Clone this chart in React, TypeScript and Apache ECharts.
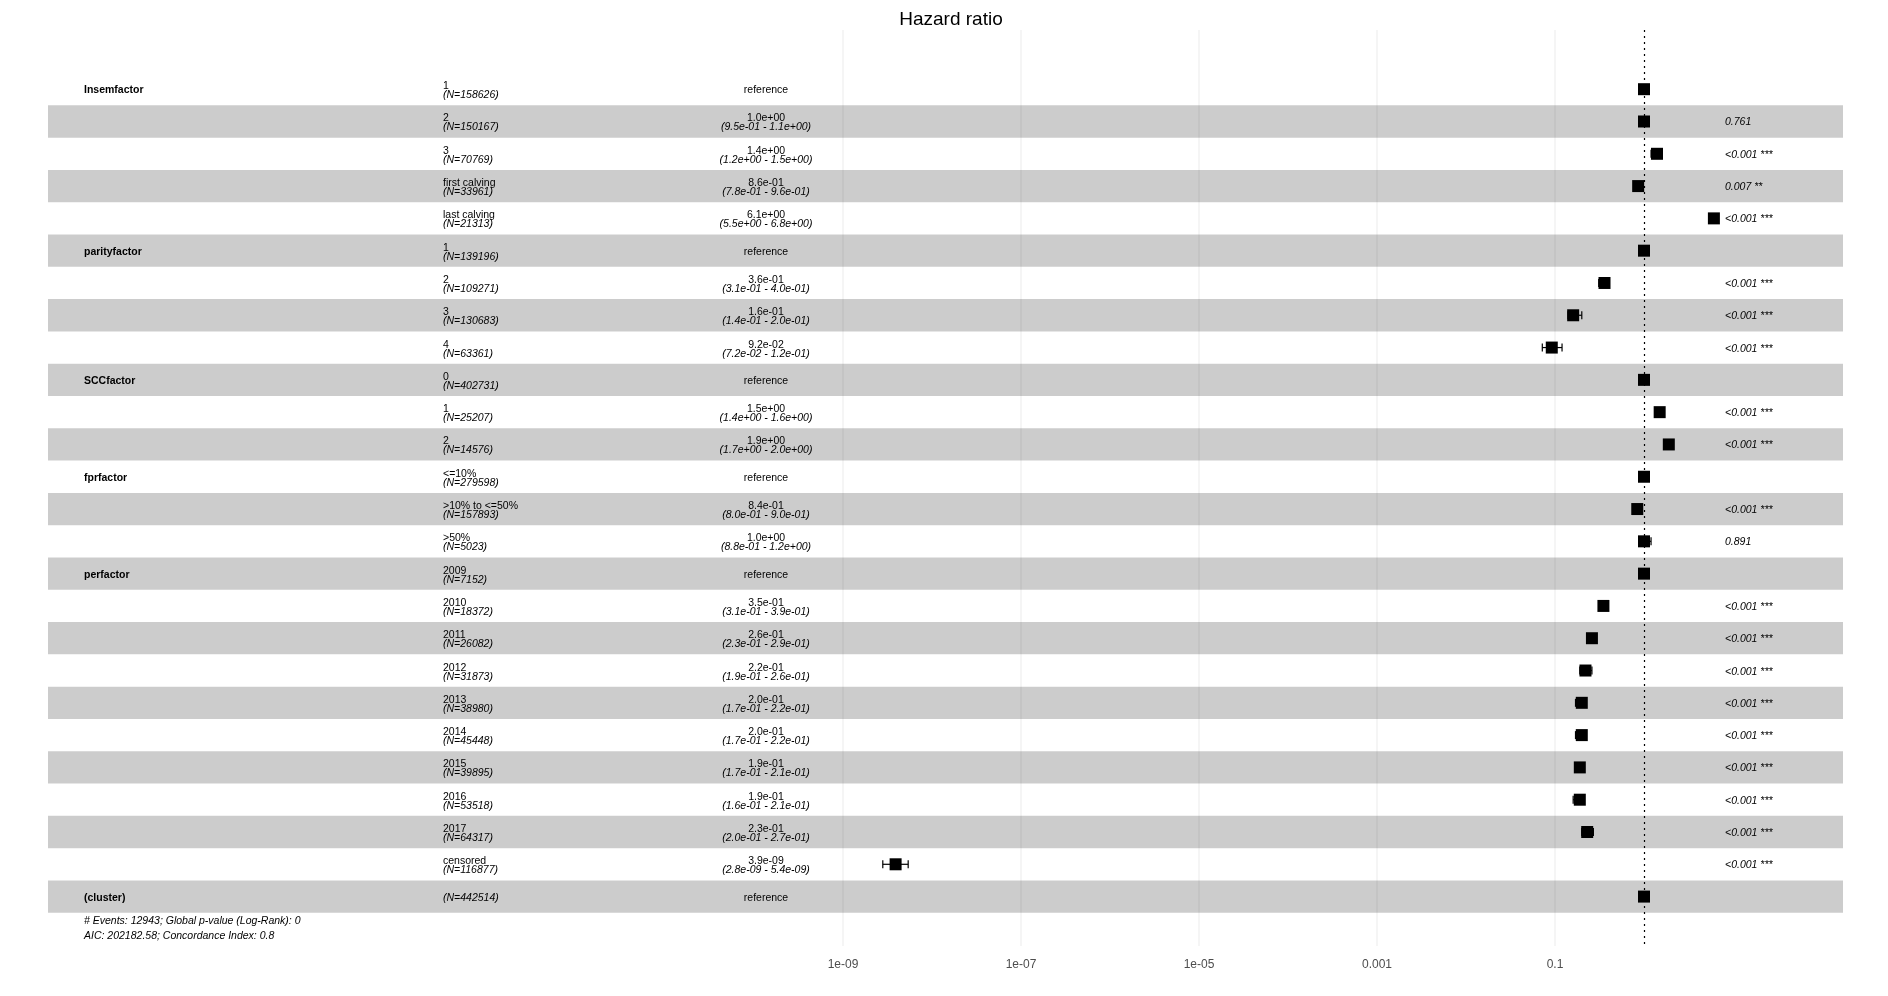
import React, { useEffect, useRef } from "react";
import * as echarts from "echarts";

const variables = ["Insemfactor", "", "", "", "", "parityfactor", "", "", "", "SCCfactor", "", "", "fprfactor", "", "", "perfactor", "", "", "", "", "", "", "", "", "", "(cluster)"];
const levels = ["1", "2", "3", "first calving", "last calving", "1", "2", "3", "4", "0", "1", "2", "<=10%", ">10% to <=50%", ">50%", "2009", "2010", "2011", "2012", "2013", "2014", "2015", "2016", "2017", "censored", ""];
const counts = [158626, 150167, 70769, 33961, 21313, 139196, 109271, 130683, 63361, 402731, 25207, 14576, 279598, 157893, 5023, 7152, 18372, 26082, 31873, 38980, 45448, 39895, 53518, 64317, 116877, 442514];
const estimates = [1, 1.0, 1.4, 0.86, 6.1, 1, 0.36, 0.16, 0.092, 1, 1.5, 1.9, 1, 0.84, 1.0, 1, 0.35, 0.26, 0.22, 0.20, 0.20, 0.19, 0.19, 0.23, 3.9e-9, 1];
const lower: (number | null)[] = [null, 0.95, 1.2, 0.78, 5.5, null, 0.31, 0.14, 0.072, null, 1.4, 1.7, null, 0.80, 0.88, null, 0.31, 0.23, 0.19, 0.17, 0.17, 0.17, 0.16, 0.20, 2.8e-9, null];
const upper: (number | null)[] = [null, 1.1, 1.5, 0.96, 6.8, null, 0.40, 0.20, 0.12, null, 1.6, 2.0, null, 0.90, 1.2, null, 0.39, 0.29, 0.26, 0.22, 0.22, 0.21, 0.21, 0.27, 5.4e-9, null];
const pValues = ["", "0.761", "<0.001 ***", "0.007 **", "<0.001 ***", "", "<0.001 ***", "<0.001 ***", "<0.001 ***", "", "<0.001 ***", "<0.001 ***", "", "<0.001 ***", "0.891", "", "<0.001 ***", "<0.001 ***", "<0.001 ***", "<0.001 ***", "<0.001 ***", "<0.001 ***", "<0.001 ***", "<0.001 ***", "<0.001 ***", ""];
const breaks = [-9, -7, -5, -3, -1];
const breakLabels: Record<string, string> = { "-9": "1e-09", "-7": "1e-07", "-5": "1e-05", "-3": "0.001", "-1": "0.1" };
const footnotes = ["# Events: 12943; Global p-value (Log-Rank): 0", "AIC: 202182.58; Concordance Index: 0.8"];

const FONT = "Liberation Sans";
const fmt = (v: number) => {
  const s = v.toExponential(1);
  const [m, e] = s.split("e");
  const n = parseInt(e, 10);
  return `${m}e${n < 0 ? "-" : "+"}${String(Math.abs(n)).padStart(2, "0")}`;
};

export default function App() {
  const ref = useRef<HTMLDivElement>(null);
  useEffect(() => {
    const chart = echarts.init(ref.current!, null, { renderer: "svg" });
    const rows = levels.map((_, i) => i);
    const BAND_L = 48, BAND_R = 1843;
    chart.setOption({
      animation: false,
      title: { text: "Hazard ratio", left: 946, top: 4, textAlign: "center", textStyle: { fontFamily: FONT, fontSize: 19, fontWeight: "normal", color: "#000" } },
      grid: { left: 843, right: 45, top: 30, bottom: 50 },
      xAxis: {
        type: "value", min: -9, max: 2.236, interval: 2,
        axisLine: { show: false }, axisTick: { show: false }, splitLine: { show: false },
        axisLabel: { fontFamily: FONT, fontSize: 12, color: "#4d4d4d", margin: 12, formatter: (v: number) => breakLabels[String(v)] ?? "" },
      },
      yAxis: { type: "value", inverse: true, min: -1.833, max: 26.53, show: false },
      series: [
        {
          type: "custom", z: 1, silent: true, clip: false,
          data: breaks.map((b) => [b]),
          renderItem: (params: any, api: any) => {
            const x = api.coord([api.value(0), 0])[0];
            const cs = params.coordSys;
            return { type: "line", shape: { x1: x, y1: cs.y, x2: x, y2: cs.y + cs.height }, style: { stroke: "#ebebeb", lineWidth: 1 } };
          },
        },
        {
          type: "custom", z: 2, silent: true, clip: false,
          data: rows.map((i) => [i]),
          renderItem: (params: any, api: any) => {
            const i = api.value(0);
            const y = api.coord([0, i])[1];
            const h = api.size([0, 1])[1];
            const children: any[] = [];
            if (i % 2 === 1) children.push({ type: "rect", shape: { x: BAND_L, y: y - h / 2, width: BAND_R - BAND_L, height: h }, style: { fill: "rgba(0,0,0,0.2)" } });
            if (variables[i]) children.push({ type: "text", x: 84, y, style: { text: variables[i], font: `bold 10.5px "${FONT}"`, fill: "#000", verticalAlign: "middle" } });
            if (levels[i]) {
              children.push({ type: "text", x: 443, y: y - 4, style: { text: levels[i], font: `10.5px "${FONT}"`, fill: "#000", verticalAlign: "middle" } });
              children.push({ type: "text", x: 443, y: y + 5, style: { text: `(N=${counts[i]})`, font: `italic 10.5px "${FONT}"`, fill: "#000", verticalAlign: "middle" } });
            } else {
              children.push({ type: "text", x: 443, y, style: { text: `(N=${counts[i]})`, font: `italic 10.5px "${FONT}"`, fill: "#000", verticalAlign: "middle" } });
            }
            if (lower[i] == null) {
              children.push({ type: "text", x: 766, y, style: { text: "reference", font: `10.5px "${FONT}"`, fill: "#000", align: "center", verticalAlign: "middle" } });
            } else {
              children.push({ type: "text", x: 766, y: y - 4, style: { text: fmt(estimates[i]), font: `10.5px "${FONT}"`, fill: "#000", align: "center", verticalAlign: "middle" } });
              children.push({ type: "text", x: 766, y: y + 5, style: { text: `(${fmt(lower[i]!)} - ${fmt(upper[i]!)})`, font: `italic 10.5px "${FONT}"`, fill: "#000", align: "center", verticalAlign: "middle" } });
            }
            if (pValues[i]) children.push({ type: "text", x: 1725, y, style: { text: pValues[i], font: `italic 10.5px "${FONT}"`, fill: "#000", verticalAlign: "middle" } });
            return { type: "group", children };
          },
        },
        {
          type: "custom", z: 3, silent: true, clip: false,
          data: rows.map((i) => [Math.log10(estimates[i]), i, lower[i] == null ? NaN : Math.log10(lower[i]!), upper[i] == null ? NaN : Math.log10(upper[i]!)]),
          renderItem: (params: any, api: any) => {
            const [x, y] = api.coord([api.value(0), api.value(1)]);
            const children: any[] = [];
            const lo = api.value(2), hi = api.value(3);
            if (!isNaN(lo)) {
              const xl = api.coord([lo, 0])[0], xh = api.coord([hi, 0])[0];
              const st = { stroke: "#000", lineWidth: 1.2 };
              children.push({ type: "line", shape: { x1: xl, y1: y, x2: xh, y2: y }, style: st });
              children.push({ type: "line", shape: { x1: xl, y1: y - 4, x2: xl, y2: y + 4 }, style: st });
              children.push({ type: "line", shape: { x1: xh, y1: y - 4, x2: xh, y2: y + 4 }, style: st });
            }
            children.push({ type: "rect", shape: { x: x - 6, y: y - 6, width: 12, height: 12 }, style: { fill: "#000" } });
            return { type: "group", children };
          },
        },
        {
          type: "line", data: [], z: 4,
          markLine: { silent: true, symbol: "none", label: { show: false }, lineStyle: { color: "#000", type: [2, 4], width: 1.2 }, data: [{ xAxis: 0 }] },
        },
      ],
      graphic: footnotes.map((t, k) => ({ type: "text", left: 84, top: 914 + k * 15, style: { text: t, font: `italic 10.5px "${FONT}"`, fill: "#000" } })),
    });
    return () => chart.dispose();
  }, []);
  return <div ref={ref} style={{ position: "fixed", left: 0, top: 0, width: 1888, height: 996 }} />;
}
